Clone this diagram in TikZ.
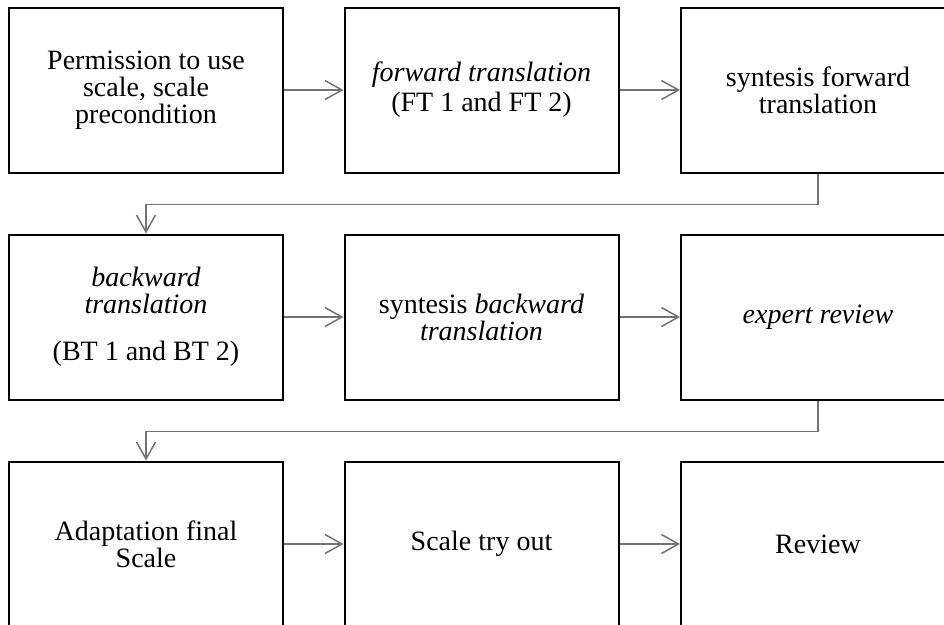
\documentclass[tikz,border=0pt]{standalone}
\usepackage{fontspec}
\setmainfont{Liberation Serif}
\usetikzlibrary{arrows.meta}

\tikzset{
  stage/.style={draw=black, line width=2pt, minimum width=274pt, minimum height=165pt,
    align=center, inner sep=0pt, font=\fontsize{28}{27}\selectfont},
  flow/.style={draw=black!55, line width=1.5pt,
    -{Straight Barb[length=17pt,width=19pt,line width=1.5pt]}}
}

\begin{document}
\begin{tikzpicture}[x=1pt,y=-1pt]
	%%%%% FRAME %%%%%
	\useasboundingbox (0,0) rectangle (944,624);
	\clip (0,0) rectangle (944,624);
	
	%%%%% ROW 1 %%%%%
	\node[stage] (perm) at (146, 90) {Permission to use\\scale, scale\\precondition};
	\node[stage] (fwd) at (481.5, 90) {\textit{forward translation}\\[3pt](FT 1 and FT 2)};
	\node[stage] (synfwd) at (818, 90) {syntesis forward\\translation};
	
	%%%%% ROW 2 %%%%%
	\node[stage] (bwd) at (146, 317) {\textit{backward}\\\textit{translation}\\[20pt](BT 1 and BT 2)};
	\node[stage] (synbwd) at (481.5, 317) {syntesis \textit{backward}\\\textit{translation}};
	\node[stage] (expert) at (818, 317) {\textit{expert review}};
	
	%%%%% ROW 3 %%%%%
	\node[stage] (adapt) at (146, 544) {Adaptation final\\Scale};
	\node[stage] (tryout) at (481.5, 544) {Scale try out};
	\node[stage] (review) at (818, 544) {Review};
	
	%%%%% ARROWS %%%%%
	\draw[flow] (perm) -- (fwd);
	\draw[flow] (fwd) -- (synfwd);
	\draw[flow] (synfwd.south) -- ++(0,31) -| (bwd.north);
	
	\draw[flow] (bwd) -- (synbwd);
	\draw[flow] (synbwd) -- (expert);
	\draw[flow] (expert.south) -- ++(0,31) -| (adapt.north);
	
	\draw[flow] (adapt) -- (tryout);
	\draw[flow] (tryout) -- (review);
\end{tikzpicture}
\end{document}
